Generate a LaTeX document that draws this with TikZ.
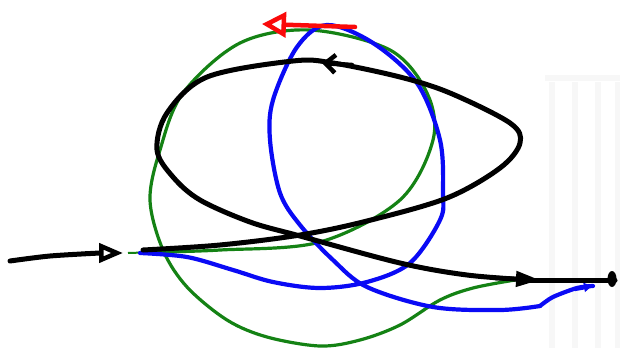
\documentclass[tikz,border=0pt]{standalone}
\usetikzlibrary{arrows.meta}
\definecolor{sgreen}{RGB}{20,130,20}
\definecolor{sblue}{RGB}{10,10,245}
\definecolor{sred}{RGB}{250,10,10}
\definecolor{wm}{RGB}{247,247,247}
\tikzset{
  blk/.style={line width=5pt, black, line cap=round, line join=round},
  grn/.style={line width=3.2pt, sgreen, line cap=round},
  blu/.style={line width=4.2pt, sblue, line cap=round},
  rd/.style={line width=4.5pt, sred, line cap=round},
  wmark/.style={line width=6pt, wm},
}
\begin{document}
\begin{tikzpicture}[x=1pt,y=-1pt]
\useasboundingbox[fill=white] (0,0) rectangle (620,348);
% faint watermark columns
\foreach \xx in {552,575,598,618}{\draw[wmark] (\xx,82) -- (\xx,348);}
\draw[wmark] (545,78) -- (620,78);
% green curve
\draw[sgreen, line width=2pt] (128,253) -- (160,252);
\draw[grn] plot[smooth, tension=0.55] coordinates {(158,252) (220,250) (320,242) (400,200) (433,140) (427,93) (390,50) (310,30) (240,43) (183,93) (160,150) (150,200) (163,250) (187,287) (227,320) (267,337) (320,346) (360,340) (400,325) (440,300) (473,288) (515,280)};
% blue curve
\draw[blu] plot[smooth, tension=0.55] coordinates {(140,253) (187,257) (233,270) (273,282) (320,288) (367,282) (410,263) (440,220) (443,193) (440,140) (417,83) (373,43) (327,25) (297,47) (273,100) (270,140) (280,193) (300,225) (333,260) (367,287) (433,307) (500,310) (540,306)};
\draw[blu] plot[smooth, tension=0.5] coordinates {(540,306) (553,297) (577,288) (593,286)};
\draw[blu, -{Triangle[length=8pt,width=9pt]}] (575,289) -- (592,286);
% black loop
\draw[blk] plot[smooth, tension=0.55] coordinates {(143,250) (220,245) (300,235) (367,221) (447,198) (500,168) (520,143) (510,123) (450,93) (400,77) (333,63) (293,61) (207,77) (167,113) (157,150) (173,177) (200,200) (250,222) (300,236) (400,263) (467,275) (530,280)};
\draw[blk] (530,280) -- (615,280);
\fill[black] (612,279) ellipse (4.5pt and 8pt);
% black incoming
\draw[blk] plot[smooth, tension=0.5] coordinates {(10,261) (50,256) (100,253)};
\draw[black, line width=4.5pt, -{Triangle[open, length=24pt, width=19pt, line width=4.5pt]}] (85,253) -- (123,253);
% black arrow right
\draw[black, line width=4.5pt, -{Triangle[open, length=24pt, width=15pt, line width=4.5pt]}] (495,278) -- (540,280);
% black top arrow
\draw[black, line width=4.5pt, line cap=round, -{Straight Barb[length=10pt, width=18pt, line width=4.5pt]}] (352,65) -- (322,63);
% red arrow
\draw[rd, -{Triangle[open, length=24pt, width=25pt, line width=4.5pt]}] (355,27) -- (262,24);
\end{tikzpicture}
\end{document}
